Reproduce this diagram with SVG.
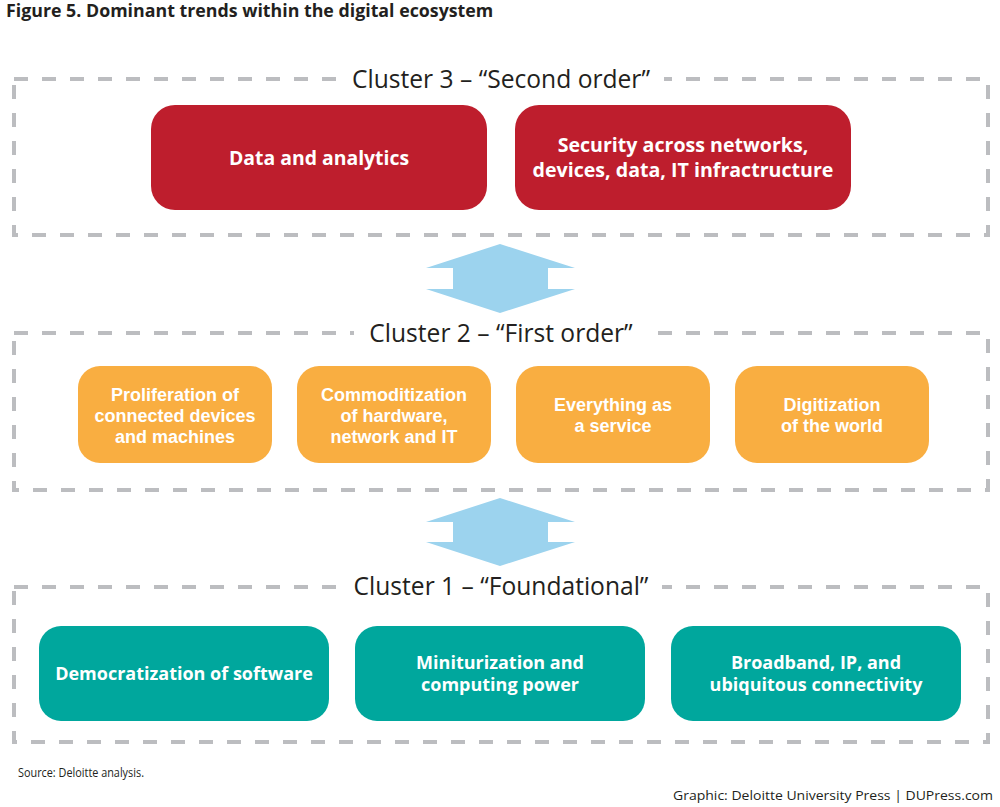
<svg xmlns="http://www.w3.org/2000/svg" width="1000" height="807" viewBox="0 0 1000 807">
<style>
.frame{fill:none;stroke:#bcbdc0;stroke-width:4;stroke-dasharray:14 14}
.lbl{font-family:"Open Sans","Liberation Sans",sans-serif;font-size:24.6px;fill:#231f20;text-anchor:middle}
.bt{font-family:"Open Sans","Liberation Sans",sans-serif;font-weight:bold;fill:#fff;text-anchor:middle}
.ot{font-family:"Liberation Sans",Arial,sans-serif;font-weight:bold;fill:#fff;text-anchor:middle;font-size:18px}
.red{fill:#be1e2d}
.org{fill:#f9ae41}
.teal{fill:#00a79d}
.arr{fill:#9cd3ee}
.cap{font-family:"Open Sans","Liberation Sans",sans-serif;fill:#231f20}
</style>
<rect width="1000" height="807" fill="#fff"/>
<text class="cap" x="6" y="17" font-size="17.8" font-weight="bold">Figure 5. Dominant trends within the digital ecosystem</text>

<g id="cluster3">
<rect class="frame" x="14" y="79" width="974" height="156"/>
<rect x="338" y="62" width="326" height="34" fill="#fff"/>
<text class="lbl" x="501" y="88">Cluster 3 – “Second order”</text>
</g>
<g id="cluster2">
<rect class="frame" x="14" y="333" width="974" height="157"/>
<rect x="354" y="316" width="294" height="34" fill="#fff"/>
<text class="lbl" x="501" y="342">Cluster 2 – “First order”</text>
</g>
<g id="cluster1">
<rect class="frame" x="14" y="587" width="974" height="155"/>
<rect x="340" y="570" width="322" height="34" fill="#fff"/>
<text class="lbl" x="501" y="595">Cluster 1 – “Foundational”</text>
</g>

<g id="n-data">
<rect class="red" x="151" y="105" width="336" height="105" rx="24"/>
<text class="bt" x="319" y="165" font-size="19.4">Data and analytics</text>
</g>
<g id="n-security">
<rect class="red" x="515" y="105" width="336" height="105" rx="24"/>
<text class="bt" x="683" y="152" font-size="19.6">Security across networks,</text>
<text class="bt" x="683" y="177" font-size="19.6">devices, data, IT infractructure</text>
</g>

<g id="n-prolif">
<rect class="org" x="78" y="366" width="194" height="97" rx="22"/>
<text class="ot" x="175" y="401">Proliferation of</text>
<text class="ot" x="175" y="422">connected devices</text>
<text class="ot" x="175" y="443">and machines</text>
</g>
<g id="n-commod">
<rect class="org" x="297" y="366" width="194" height="97" rx="22"/>
<text class="ot" x="394" y="401">Commoditization</text>
<text class="ot" x="394" y="422">of hardware,</text>
<text class="ot" x="394" y="443">network and IT</text>
</g>
<g id="n-eaas">
<rect class="org" x="516" y="366" width="194" height="97" rx="22"/>
<text class="ot" x="613" y="411">Everything as</text>
<text class="ot" x="613" y="432">a service</text>
</g>
<g id="n-digit">
<rect class="org" x="735" y="366" width="194" height="97" rx="22"/>
<text class="ot" x="832" y="411">Digitization</text>
<text class="ot" x="832" y="432">of the world</text>
</g>

<g id="n-democ">
<rect class="teal" x="39" y="626" width="290" height="95" rx="22"/>
<text class="bt" x="184" y="680" font-size="18">Democratization of software</text>
</g>
<g id="n-mini">
<rect class="teal" x="355" y="626" width="290" height="95" rx="22"/>
<text class="bt" x="500" y="669" font-size="18">Miniturization and</text>
<text class="bt" x="500" y="691" font-size="18">computing power</text>
</g>
<g id="n-broad">
<rect class="teal" x="671" y="626" width="290" height="95" rx="22"/>
<text class="bt" x="816" y="669" font-size="18">Broadband, IP, and</text>
<text class="bt" x="816" y="691" font-size="18">ubiquitous connectivity</text>
</g>

<g id="connectors">
<polygon class="arr" points="500,244 575,268 548,268 548,289 575,289 500,313 426,289 453,289 453,268 426,268"/>
<polygon class="arr" points="500,498 575,522 548,522 548,542 575,542 500,566 426,542 453,542 453,522 426,522"/>
</g>

<text class="cap" x="18" y="777" font-size="13" textLength="126" lengthAdjust="spacingAndGlyphs">Source: Deloitte analysis.</text>
<text class="cap" x="993" y="800" font-size="13.5" text-anchor="end" textLength="320" lengthAdjust="spacingAndGlyphs">Graphic: Deloitte University Press  |  DUPress.com</text>
</svg>
